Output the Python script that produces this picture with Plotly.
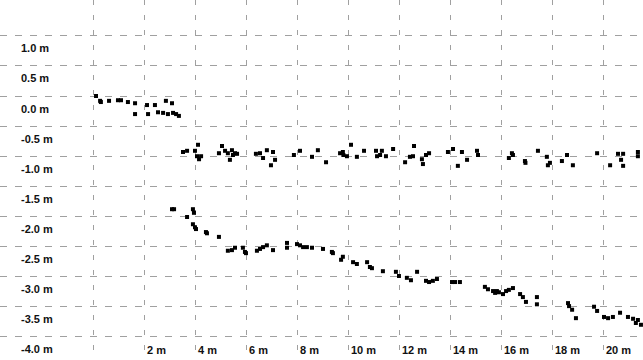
import plotly.graph_objects as go

# ── Data (metres) ─────────────────────────────────────────────

# upper run, near 0 m
seg1_x = [0.08, 0.24, 0.27, 0.59, 0.94, 1.06, 1.33, 1.61, 1.61, 2.08, 2.12, 2.39, 2.51,
          2.71, 2.82, 2.90, 3.06, 3.10, 3.22, 3.33]
seg1_y = [0.00, -0.08, -0.10, -0.08, -0.07, -0.07, -0.10, -0.12, -0.30, -0.15, -0.30, -0.15,
          -0.27, -0.28, -0.08, -0.30, -0.12, -0.28, -0.30, -0.33]

# middle run, around -1 m
seg2_x = [3.49, 3.65, 3.96, 4.08, 4.04, 4.12, 4.20, 4.90, 5.02, 5.14, 5.25, 5.33, 5.41, 5.45,
          5.53, 5.61, 6.35, 6.51, 6.63, 6.78, 6.94, 7.02, 7.10, 7.84, 8.08, 8.55, 8.78, 9.10,
          9.65, 9.76, 9.78, 9.92, 10.08, 10.31, 10.59, 11.06, 11.10, 11.22, 11.29, 11.45, 11.73,
          12.20, 12.39, 12.55, 12.51, 12.86, 12.90, 13.02, 13.14, 13.88, 14.08, 14.27, 14.43,
          14.63, 15.02, 15.06, 16.27, 16.39, 16.43, 16.90, 16.92, 17.41, 17.76, 17.80, 17.88,
          18.35, 18.55, 18.78, 19.73, 20.24, 20.55, 20.75, 20.67, 20.75, 21.33, 21.33]
seg2_y = [-0.93, -0.91, -0.91, -0.81, -1.00, -1.05, -1.00, -0.95, -0.83, -0.91, -0.95, -1.06,
          -0.90, -0.98, -0.95, -0.96, -0.96, -0.95, -1.03, -0.90, -1.15, -0.93, -1.06, -0.98,
          -0.91, -1.01, -0.90, -1.10, -0.95, -0.93, -0.98, -1.00, -0.81, -1.01, -0.91, -0.91,
          -1.00, -0.98, -0.91, -1.00, -0.88, -1.10, -1.01, -0.83, -1.00, -1.05, -1.13, -0.98,
          -0.95, -0.93, -0.88, -1.16, -0.93, -1.06, -0.91, -0.98, -1.03, -0.95, -0.98, -1.08,
          -1.11, -0.91, -1.01, -1.15, -1.11, -1.08, -0.98, -1.15, -0.95, -1.15, -0.96, -0.96,
          -1.06, -1.16, -0.93, -1.00]

# lower run, falling from -1.9 m to -3.8 m
seg3_x = [3.06, 3.14, 3.65, 3.88, 3.92, 3.88, 3.96, 4.00, 4.39, 4.43, 4.90, 5.25, 5.41, 5.53,
          5.84, 5.92, 5.96, 6.39, 6.51, 6.63, 6.78, 7.02, 7.57, 7.57, 7.96, 8.08, 8.20, 8.35,
          8.55, 8.98, 9.33, 9.37, 9.69, 9.76, 10.16, 10.31, 10.71, 10.82, 10.90, 11.33, 11.84,
          11.96, 12.27, 12.43, 12.67, 13.02, 13.14, 13.29, 13.45, 14.04, 14.16, 14.35, 15.33,
          15.45, 15.65, 15.80, 15.73, 15.88, 16.04, 16.16, 16.27, 16.43, 16.71, 16.82, 16.94,
          17.37, 17.37, 18.59, 18.63, 18.75, 18.90, 19.61, 19.73, 20.00, 20.16, 20.35, 20.63,
          20.94, 21.14, 21.25, 21.33, 21.45]
seg3_y = [-1.88, -1.88, -2.01, -1.88, -1.94, -2.13, -2.18, -2.21, -2.26, -2.28, -2.34, -2.57,
          -2.56, -2.52, -2.52, -2.59, -2.61, -2.57, -2.54, -2.51, -2.48, -2.56, -2.44, -2.52,
          -2.46, -2.48, -2.51, -2.51, -2.52, -2.54, -2.59, -2.61, -2.72, -2.67, -2.76, -2.79,
          -2.76, -2.84, -2.86, -2.91, -2.92, -2.99, -3.02, -3.06, -2.92, -3.07, -3.09, -3.07,
          -3.04, -3.09, -3.09, -3.09, -3.17, -3.21, -3.24, -3.24, -3.27, -3.26, -3.29, -3.24,
          -3.22, -3.19, -3.29, -3.34, -3.42, -3.34, -3.46, -3.44, -3.49, -3.55, -3.69, -3.50,
          -3.57, -3.67, -3.69, -3.67, -3.60, -3.67, -3.70, -3.77, -3.72, -3.80]

x_ticks = [0, 2, 4, 6, 8, 10, 12, 14, 16, 18, 20]
x_labels = ["", "2 m", "4 m", "6 m", "8 m", "10 m", "12 m", "14 m", "16 m", "18 m", "20 m"]
y_ticks = [1.0, 0.5, 0.0, -0.5, -1.0, -1.5, -2.0, -2.5, -3.0, -3.5, -4.0]
y_labels = ["1.0 m", "0.5 m", "0.0 m", "-0.5 m", "-1.0 m", "-1.5 m", "-2.0 m",
            "-2.5 m", "-3.0 m", "-3.5 m", "-4.0 m"]

# ── Plot ─────────────────────────────────────────────

fig = go.Figure()
fig.add_trace(go.Scatter(
    x=seg1_x + seg2_x + seg3_x,
    y=seg1_y + seg2_y + seg3_y,
    mode="markers",
    marker=dict(symbol="square", size=4, color="black", line_width=0),
    hoverinfo="skip",
))

tick_font = dict(family="Liberation Sans", size=11, color="#111111", weight="bold")

fig.update_layout(
    width=643, height=360,
    margin=dict(l=0, r=0, t=0, b=0, autoexpand=False),
    paper_bgcolor="white", plot_bgcolor="white",
    showlegend=False,
    xaxis=dict(
        range=[-3.686, 21.53],
        tickvals=x_ticks, ticktext=x_labels,
        ticklabelposition="inside right",
        ticklabelstandoff=-2, ticklabelshift=2,
        ticks="", tickfont=tick_font, automargin=False,
        showgrid=True, gridcolor="#a0a0a0", gridwidth=1, griddash="5px,10px",
        zeroline=False, showline=False,
    ),
    yaxis=dict(
        range=[-4.385, 1.595],
        tickvals=y_ticks, ticktext=y_labels,
        ticklabelposition="inside bottom",
        ticklabelstandoff=18, ticklabelshift=5,
        ticks="", tickfont=tick_font, automargin=False,
        showgrid=True, gridcolor="#a0a0a0", gridwidth=1, griddash="7px,8px",
        zeroline=False, showline=False,
    ),
)

# drop the browser's default body margin so the chart fills the window
fig.write_html("out.html", config={"displayModeBar": False},
               post_script="document.body.style.margin='0';")
